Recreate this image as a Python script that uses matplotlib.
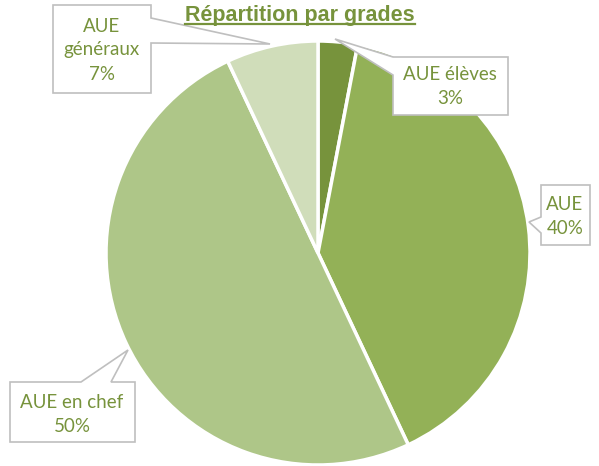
import matplotlib.pyplot as plt
from matplotlib.patches import Polygon

# données
grades = ['AUE élèves', 'AUE', 'AUE en chef', 'AUE\ngénéraux']
parts = [3, 40, 50, 7]
couleurs = ['#77933C', '#93B157', '#AEC688', '#D0DDBA']
titre = 'Répartition par grades'
vert = '#77933C'

W, H = 599, 466
fig = plt.figure(figsize=(W / 100, H / 100), dpi=100)
ax = fig.add_axes([0, 0, 1, 1])

# axe y inversé -> coordonnées en pixels ; sens horaire depuis le haut
ax.pie(parts, colors=couleurs, startangle=-90, counterclock=True,
       center=(318, 253), radius=212,
       wedgeprops=dict(edgecolor='white', linewidth=2.5))
ax.set_xlim(0, W)
ax.set_ylim(H, 0)
ax.set_aspect('equal')
ax.axis('off')

# bulles de légende (contour avec pointe)
bulles = [
    [(393, 57), (508, 57), (508, 115), (393, 115), (393, 75), (335, 39)],
    [(541, 185), (590, 185), (590, 245), (541, 245), (541, 233), (529, 222), (541, 217)],
    [(10, 382), (81, 382), (128, 350), (111, 382), (135, 382), (135, 442), (10, 442)],
    [(53, 5), (151, 5), (151, 18), (270, 44), (151, 43), (151, 93), (53, 93)],
]
centres = [(450, 86), (565, 216), (72, 413), (102, 49)]

for i, g in enumerate(grades):
    ax.add_patch(Polygon(bulles[i], closed=True, facecolor='white',
                         edgecolor='#BFBFBF', linewidth=1.2, zorder=3))
    ax.text(centres[i][0], centres[i][1] + 1, f'{g}\n{parts[i]}%', ha='center',
            va='center', fontsize=13.5, family='Lato', color=vert,
            linespacing=1.5, zorder=4)

t = ax.text(300, 21, titre, ha='center', va='baseline', fontsize=15.5,
            fontweight='bold', family='Liberation Sans', color=vert, zorder=4)

# soulignement du titre
fig.canvas.draw()
bb = t.get_window_extent().transformed(ax.transData.inverted())
ax.plot([bb.x0, bb.x1], [24, 24], color=vert, linewidth=1.6, zorder=4)

fig.savefig('out.png', dpi=100)
